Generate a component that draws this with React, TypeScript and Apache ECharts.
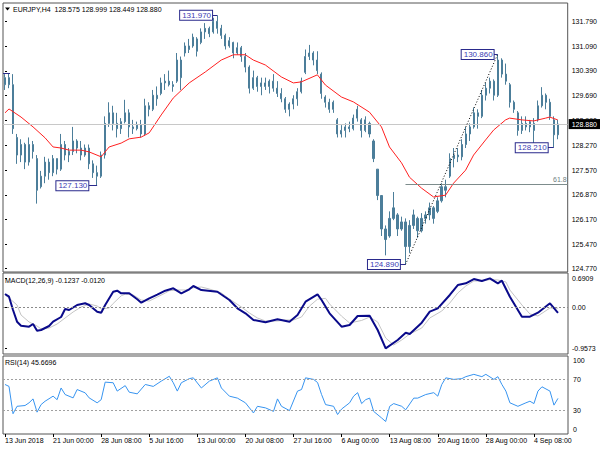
import React, { useEffect, useRef } from "react";
import * as echarts from "echarts";

const FONT = "Liberation Sans";

const SYMBOL = "EURJPY,H4";
const LAST_OHLC = ["128.575", "128.999", "128.449", "128.880"];
const MACD_TITLE = "MACD(12,26,9) -0.1237 -0.0120";
const RSI_TITLE = "RSI(14) 45.6696";
const WATERMARK = "ActionForex.com";

const timeLabels = [
  "13 Jun 2018", "21 Jun 00:00", "28 Jun 08:00", "5 Jul 16:00", "13 Jul 00:00", "20 Jul 08:00",
  "27 Jul 16:00", "6 Aug 00:00", "13 Aug 08:00", "20 Aug 16:00", "28 Aug 00:00", "4 Sep 08:00",
];
const BARS_PER_LABEL = 12;
const SLOT_COUNT = 141;

// [open, close, low, high]
const bars: number[][] = [
  [130.0, 130.2, 129.85, 130.3], [130.2, 130.0, 129.9, 130.33], [130.0, 128.75, 128.6, 130.3],
  [128.5, 128.0, 127.75, 128.6], [128.0, 128.3, 127.8, 128.45], [128.3, 127.8, 127.6, 128.35],
  [127.8, 128.3, 127.7, 128.5], [128.3, 128.1, 127.9, 128.4], [127.9, 127.0, 126.62, 128.0],
  [127.1, 127.4, 127.05, 127.55], [127.4, 127.8, 127.2, 127.95], [127.8, 127.5, 127.3, 127.9],
  [127.5, 127.9, 127.4, 128.0], [127.9, 127.6, 127.45, 127.9], [127.6, 128.3, 127.55, 128.6],
  [128.3, 128.0, 127.85, 128.4], [128.0, 128.1, 127.8, 128.2], [128.1, 128.4, 128.0, 128.8],
  [128.4, 128.2, 128.05, 128.45], [128.2, 128.0, 127.85, 128.4], [128.0, 128.2, 127.95, 128.3],
  [128.2, 127.75, 127.6, 128.3], [127.75, 127.5, 127.35, 127.85], [127.5, 127.4, 127.13, 127.7],
  [127.4, 128.0, 127.35, 128.1], [128.0, 128.9, 127.9, 129.1], [128.9, 129.2, 128.8, 129.5],
  [129.2, 128.9, 128.7, 129.4], [128.9, 128.75, 128.5, 129.2], [128.75, 128.95, 128.6, 129.05],
  [128.95, 129.2, 128.9, 129.57], [129.2, 128.8, 128.5, 129.3], [128.8, 128.75, 128.6, 129.0],
  [128.75, 128.85, 128.7, 128.95], [128.85, 128.6, 128.5, 129.0], [128.6, 129.4, 128.55, 129.6],
  [129.4, 129.3, 129.1, 129.5], [129.3, 129.7, 129.25, 129.85], [129.7, 129.6, 129.4, 129.95],
  [129.75, 130.05, 129.7, 130.2], [130.05, 130.1, 129.85, 130.3], [130.1, 130.0, 129.95, 130.4],
  [130.0, 129.95, 129.8, 130.1], [130.1, 130.7, 130.05, 130.9], [130.7, 130.2, 129.85, 130.8],
  [130.9, 131.1, 130.8, 131.2], [131.1, 131.0, 130.9, 131.3], [131.1, 131.35, 131.05, 131.45],
  [131.3, 130.95, 130.8, 131.35], [131.2, 131.5, 131.15, 131.6], [131.5, 131.6, 131.3, 131.75],
  [131.6, 131.45, 131.35, 131.65], [131.5, 131.8, 131.45, 131.9], [131.8, 131.6, 131.45, 131.97],
  [131.6, 131.4, 131.3, 131.7], [131.4, 131.1, 131.0, 131.45], [131.1, 131.25, 131.05, 131.35],
  [131.2, 130.9, 130.75, 131.22], [130.9, 131.05, 130.85, 131.2], [131.05, 130.8, 130.65, 131.1],
  [130.8, 130.5, 130.35, 130.9], [130.5, 129.9, 129.75, 130.55], [129.9, 130.2, 129.85, 130.4],
  [130.2, 129.95, 129.8, 130.25], [129.95, 130.05, 129.7, 130.2], [130.05, 129.95, 129.85, 130.2],
  [129.95, 130.1, 129.75, 130.15], [130.1, 129.9, 129.8, 130.3], [129.9, 129.75, 129.65, 130.1],
  [129.75, 129.6, 129.5, 129.9], [129.6, 129.3, 129.2, 129.65], [129.3, 129.45, 129.1, 129.5],
  [129.45, 129.6, 129.3, 129.7], [129.6, 129.8, 129.4, 129.9], [129.8, 130.1, 129.75, 130.2],
  [130.35, 130.8, 130.3, 131.0], [130.8, 130.9, 130.7, 131.13], [130.9, 130.7, 130.55, 130.95],
  [130.7, 130.4, 130.3, 130.95], [130.3, 129.75, 129.6, 130.35], [129.65, 129.5, 129.35, 129.7],
  [129.5, 129.3, 129.2, 129.6], [129.3, 129.5, 129.2, 129.55], [129.0, 128.6, 128.5, 129.05],
  [128.6, 128.7, 128.5, 128.85], [128.7, 128.8, 128.5, 128.9], [128.8, 128.75, 128.65, 128.95],
  [128.75, 129.05, 128.7, 129.15], [129.05, 129.3, 128.95, 129.4], [129.0, 128.7, 128.5, 129.05],
  [128.7, 129.0, 128.65, 129.1], [128.9, 128.6, 128.5, 128.95], [128.4, 127.9, 127.8, 128.45],
  [127.6, 126.85, 126.72, 127.6], [126.85, 125.9, 125.7, 126.85], [125.9, 125.6, 125.15, 126.0],
  [125.7, 126.2, 125.65, 126.4], [126.2, 126.5, 126.15, 126.95], [126.3, 125.9, 125.7, 126.35],
  [125.9, 126.1, 125.85, 126.25], [126.1, 125.4, 124.89, 126.2], [125.4, 126.0, 125.22, 126.15],
  [126.0, 126.3, 125.9, 126.45], [126.2, 125.85, 125.65, 126.25], [125.85, 126.2, 125.8, 126.35],
  [126.2, 126.3, 126.05, 126.4], [126.3, 126.5, 126.15, 126.65], [126.5, 126.2, 126.05, 126.55],
  [126.4, 126.7, 126.35, 126.8], [126.7, 127.1, 126.65, 127.2], [127.1, 127.0, 126.8, 127.3],
  [127.4, 127.9, 127.35, 128.05], [127.9, 128.0, 127.65, 128.2], [128.0, 127.95, 127.8, 128.2],
  [127.95, 128.3, 127.85, 128.45], [128.3, 128.6, 128.2, 128.8], [128.6, 128.8, 128.4, 128.9],
  [128.8, 129.2, 128.75, 129.35], [129.2, 129.1, 128.75, 129.3], [129.1, 129.7, 129.05, 129.85],
  [129.7, 129.9, 129.55, 130.05], [129.9, 130.1, 129.75, 130.2], [130.1, 129.7, 129.55, 130.15],
  [129.7, 130.7, 129.65, 130.86], [130.7, 130.3, 130.2, 130.75], [130.3, 130.1, 130.0, 130.6],
  [130.0, 129.5, 129.35, 130.05], [129.5, 129.3, 129.2, 129.55], [129.2, 128.7, 128.55, 129.25],
  [128.7, 128.9, 128.6, 129.1], [128.9, 128.8, 128.7, 129.1], [128.8, 128.95, 128.65, 129.0],
  [128.9, 128.7, 128.33, 129.05], [129.0, 129.4, 128.95, 129.55], [129.4, 129.7, 129.35, 129.93],
  [129.7, 129.5, 129.3, 129.75], [129.5, 129.1, 129.0, 129.6], [129.0, 128.575, 128.21, 129.1],
  [128.575, 128.88, 128.449, 128.999],
];

// [bar index, value]
const maPoints: number[][] = [
  [0, 129.2], [1, 129.31], [4, 129.08], [7, 128.8], [10, 128.49], [12, 128.23], [14, 128.2],
  [16, 128.14], [19, 128.14], [21, 128.09], [24, 127.95], [26, 128.23], [29, 128.34], [31, 128.46],
  [34, 128.51], [36, 128.63], [39, 129.14], [42, 129.62], [46, 130.05], [50, 130.36], [54, 130.7],
  [57, 130.85], [60, 130.85], [62, 130.7], [65, 130.56], [69, 130.22], [72, 130.05], [74, 130.08],
  [78, 130.28], [80, 129.99], [84, 129.65], [87, 129.51], [91, 129.22], [94, 128.8], [96, 128.23],
  [99, 127.78], [101, 127.37], [104, 127.06], [107, 126.81], [110, 126.86], [112, 127.2],
  [115, 127.57], [117, 128.0], [120, 128.43], [122, 128.71], [125, 129.0], [126, 129.05],
  [129, 129.0], [132, 128.97], [135, 129.05], [136, 129.08], [138, 129.0],
];

const macdPoints: number[][] = [
  [0, 0.322], [1, 0.259], [2, -0.054], [3, -0.329], [4, -0.424], [6, -0.447], [7, -0.384],
  [8, -0.541], [9, -0.525], [11, -0.431], [12, -0.329], [14, -0.219], [15, -0.031], [16, -0.054],
  [18, 0.064], [20, 0.104], [21, 0.064], [23, -0.094], [24, -0.118], [25, 0.064], [27, 0.376],
  [28, 0.4], [29, 0.339], [31, 0.339], [33, 0.198], [34, 0.118], [36, 0.221], [38, 0.306],
  [40, 0.4], [42, 0.456], [44, 0.339], [46, 0.433], [47, 0.511], [49, 0.416], [53, 0.376],
  [56, 0.181], [58, -0.014], [60, -0.132], [62, -0.289], [65, -0.344], [68, -0.273], [71, -0.329],
  [73, -0.172], [75, 0.141], [78, 0.315], [79, 0.181], [81, -0.132], [84, -0.447], [86, -0.407],
  [88, -0.195], [91, -0.188], [93, -0.525], [95, -0.957], [98, -0.76], [100, -0.588],
  [101, -0.619], [104, -0.353], [106, -0.094], [108, -0.014], [111, 0.299], [113, 0.534],
  [115, 0.574], [117, 0.675], [119, 0.628], [121, 0.691], [123, 0.574], [124, 0.635],
  [126, 0.259], [129, -0.212], [131, -0.212], [133, -0.118], [136, 0.104], [138, -0.1237],
];

const signalPoints: number[][] = [
  [0, 0.299], [1, 0.228], [3, 0.064], [4, -0.172], [6, -0.336], [8, -0.431], [9, -0.5],
  [11, -0.478], [13, -0.384], [15, -0.242], [17, -0.101], [19, 0.016], [21, 0.087], [23, 0.04],
  [24, -0.03], [26, -0.007], [27, 0.1], [29, 0.28], [30, 0.32], [32, 0.299], [34, 0.181],
  [36, 0.158], [38, 0.252], [40, 0.346], [41, 0.4], [43, 0.416], [45, 0.416], [47, 0.47],
  [49, 0.487], [51, 0.44], [54, 0.346], [56, 0.205], [59, 0.016], [61, -0.125], [63, -0.242],
  [65, -0.313], [68, -0.313], [70, -0.289], [72, -0.289], [74, -0.219], [76, 0.04], [78, 0.2],
  [80, 0.22], [81, 0.087], [84, -0.2], [86, -0.36], [89, -0.3], [91, -0.22], [93, -0.336],
  [95, -0.713], [97, -0.878], [99, -0.76], [101, -0.62], [104, -0.478], [106, -0.242],
  [109, -0.078], [111, 0.111], [113, 0.346], [115, 0.511], [117, 0.628], [119, 0.628],
  [121, 0.66], [123, 0.652], [125, 0.605], [126, 0.416], [129, 0.064], [131, -0.148],
  [133, -0.195], [136, -0.007], [138, -0.012],
];

const rsiPoints: number[][] = [
  [0, 63.5], [1, 61], [2, 26], [3, 35.5], [5, 36.5], [6, 40], [7, 45], [8, 28], [9, 37.7],
  [10, 42], [12, 48.5], [13, 44], [14, 59], [15, 50.6], [17, 46.3], [18, 57], [20, 52.8],
  [21, 46.3], [23, 40], [24, 44], [25, 66.5], [27, 65.7], [28, 55], [30, 62], [31, 53.6],
  [33, 51.5], [35, 63.5], [37, 61], [39, 67.8], [41, 74], [42, 65.7], [43, 55], [44, 65.7],
  [46, 71], [47, 72], [49, 59], [51, 67.8], [53, 72], [54, 59], [56, 48.5], [58, 46], [60, 40],
  [62, 27], [63, 35.5], [65, 33.5], [67, 29], [68, 45], [69, 35.5], [71, 30], [73, 55], [74, 57],
  [75, 72], [77, 70], [78, 66], [79, 50.6], [80, 37.7], [82, 35.5], [83, 25], [84, 32], [86, 40],
  [87, 48.5], [88, 53], [89, 39], [90, 44], [91, 46], [92, 29], [94, 20.5], [95, 16], [96, 35.5],
  [97, 39], [99, 35.5], [100, 31], [102, 46], [103, 46], [105, 50.6], [107, 53], [108, 48.5],
  [109, 63.5], [110, 72], [112, 70], [114, 71], [115, 73.5], [117, 76.5], [119, 73.5],
  [120, 76.5], [122, 70], [123, 73.5], [124, 63.5], [125, 55], [126, 40], [128, 35.5], [130, 40],
  [131, 42], [132, 39], [133, 55], [134, 60.5], [136, 55], [137, 37], [138, 45.67],
];

const priceTicks = [131.79, 131.09, 130.39, 129.69, 128.99, 128.27, 127.57, 126.87, 126.17, 125.47, 124.77];
const macdTicks = [0.6909, 0, -0.9573];
const macdTickLabels = ["0.6909", "0.00", "-0.9573"];
const rsiTicks = [100, 70, 30, 0];
const rsiLevels = [70, 30];

const currentPrice = 128.88;
const fibLevel = { text: "61.8", fromIndex: 100, price: 127.17 };
const trendLine = { fromIndex: 100, fromPrice: 124.89, toIndex: 123, toPrice: 130.86 };
const swingLabels = [
  { index: 53, price: 131.97, text: "131.970", gap: 1.3 },
  { index: 23, price: 127.13, text: "127.130", gap: 2.2 },
  { index: 100, price: 124.89, text: "124.890", gap: 1.4 },
  { index: 123, price: 130.86, text: "130.860", gap: 1.0 },
  { index: 137, price: 128.21, text: "128.210", gap: 1.5 },
];
const edgeMarker = { fromIndex: -0.5, toIndex: 1.25, price: 130.33 };

const BAR_COLOR = "#4c7e9a";
const LABEL_NAVY = "#2a2a8c";

function nearestLabel(v: number, ticks: number[], labels: string[]) {
  let best = 0;
  for (let i = 1; i < ticks.length; i++) {
    if (Math.abs(ticks[i] - v) < Math.abs(ticks[best] - v)) best = i;
  }
  return labels[best];
}

export default function App() {
  const ref = useRef<HTMLDivElement>(null);

  useEffect(() => {
    if (!ref.current) return;
    const chart = echarts.init(ref.current, undefined, { renderer: "svg" });
    const categories = Array.from({ length: SLOT_COUNT }, (_, i) => `s${i}`);
    const gridBase = { left: 3, right: 32, show: true, borderColor: "#555", borderWidth: 1, backgroundColor: "#fff" };
    const axisText = { fontSize: 7, color: "#000", fontFamily: FONT };
    const hiddenValueX = (gridIndex: number) => ({
      type: "value", gridIndex, min: -0.5, max: SLOT_COUNT - 0.5, show: false,
    });

    const swingMarks = swingLabels.map((s) => [
      {
        coord: [s.index - s.gap, s.price],
        lineStyle: { color: LABEL_NAVY, width: 1, type: "solid" },
        label: {
          show: true, position: "start", distance: 0, formatter: s.text,
          color: "#3c3cb4", backgroundColor: "#fff", borderColor: LABEL_NAVY, borderWidth: 1,
          padding: [1, 1, 0, 2], fontSize: 8, lineHeight: 8, fontFamily: FONT,
        },
      },
      { coord: [s.index, s.price] },
    ]);

    const option: any = {
      animation: false,
      backgroundColor: "#fff",
      textStyle: { fontFamily: FONT },
      grid: [
        { ...gridBase, top: 3, height: 269 },
        { ...gridBase, top: 273, height: 81 },
        { ...gridBase, top: 356, height: 78 },
      ],
      xAxis: [
        { type: "category", gridIndex: 0, data: categories, show: false },
        hiddenValueX(0),
        hiddenValueX(1),
        {
          type: "category", gridIndex: 2, data: categories, boundaryGap: true,
          axisLine: { show: false },
          axisTick: { show: true, interval: BARS_PER_LABEL - 1, length: 3, alignWithLabel: true, lineStyle: { color: "#000" } },
          axisLabel: {
            ...axisText, interval: BARS_PER_LABEL - 1, align: "left", margin: 3,
            formatter: (_: string, idx: number) => (idx % BARS_PER_LABEL === 0 ? timeLabels[idx / BARS_PER_LABEL] ?? "" : ""),
          },
          splitLine: { show: false },
        },
        hiddenValueX(2),
      ],
      yAxis: [
        {
          type: "value", gridIndex: 0, position: "right", min: 124.677, max: 132.321,
          splitLine: { show: false }, axisLine: { show: false },
          axisTick: { show: true, length: 2, customValues: priceTicks, lineStyle: { color: "#000" } },
          axisLabel: { ...axisText, margin: 4, customValues: priceTicks, formatter: (v: number) => v.toFixed(3) },
        },
        {
          type: "value", gridIndex: 1, position: "right", min: -1.0894, max: 0.8165,
          splitLine: { show: false }, axisLine: { show: false },
          axisTick: { show: true, length: 2, customValues: macdTicks, lineStyle: { color: "#000" } },
          axisLabel: { ...axisText, margin: 4, customValues: macdTicks, formatter: (v: number) => nearestLabel(v, macdTicks, macdTickLabels) },
        },
        {
          type: "value", gridIndex: 2, position: "right", min: 0, max: 100,
          splitLine: { show: false }, axisLine: { show: false },
          axisTick: { show: false },
          axisLabel: {
            ...axisText, margin: 5, customValues: rsiTicks,
            formatter: (v: number) => (v === 100 ? `{t|${v}}` : v === 0 ? `{b|${v}}` : `${v}`),
            rich: {
              t: { fontSize: 7, fontFamily: FONT, color: "#000", padding: [9, 0, 0, 0] },
              b: { fontSize: 7, fontFamily: FONT, color: "#000", padding: [0, 0, 10, 0] },
            },
          },
        },
      ],
      series: [
        {
          type: "line", xAxisIndex: 1, yAxisIndex: 0, data: [], z: 1, silent: true,
          markLine: {
            symbol: ["none", "none"], silent: true, animation: false,
            data: [
              {
                yAxis: currentPrice,
                lineStyle: { color: "#c8c8c8", width: 1, type: "solid" },
                label: {
                  show: true, position: "end", distance: 1, formatter: currentPrice.toFixed(3),
                  backgroundColor: "#000", color: "#fff", padding: [2, 3, 1, 3], fontSize: 7, fontFamily: FONT,
                },
              },
              [
                {
                  coord: [fibLevel.fromIndex, fibLevel.price],
                  lineStyle: { color: "#7d8c8c", width: 1, type: "solid" },
                  label: { show: true, position: "insideEndTop", distance: 1, formatter: fibLevel.text, color: "#6f8080", fontSize: 7, fontFamily: FONT },
                },
                { coord: [SLOT_COUNT - 0.5, fibLevel.price] },
              ],
            ],
          },
        },
        {
          type: "candlestick", xAxisIndex: 0, yAxisIndex: 0, data: bars, barWidth: 1.6, z: 2,
          itemStyle: { color: BAR_COLOR, color0: BAR_COLOR, borderColor: BAR_COLOR, borderColor0: BAR_COLOR, borderWidth: 1 },
        },
        {
          type: "line", xAxisIndex: 1, yAxisIndex: 0, data: maPoints, symbol: "none", z: 3,
          lineStyle: { color: "#ff2020", width: 1 },
          markLine: {
            symbol: ["none", "none"], silent: true, animation: false,
            data: [
              [
                { coord: [trendLine.fromIndex, trendLine.fromPrice], lineStyle: { color: "#000", width: 1, type: [1, 2] }, label: { show: false } },
                { coord: [trendLine.toIndex, trendLine.toPrice] },
              ],
              [
                { coord: [edgeMarker.fromIndex, edgeMarker.price], lineStyle: { color: LABEL_NAVY, width: 1, type: "solid" }, label: { show: false } },
                { coord: [edgeMarker.toIndex, edgeMarker.price] },
              ],
              ...swingMarks,
            ],
          },
        },
        {
          type: "line", xAxisIndex: 2, yAxisIndex: 1, data: signalPoints, symbol: "none",
          lineStyle: { color: "#c4c4c4", width: 1 },
          markLine: {
            symbol: ["none", "none"], silent: true, animation: false,
            data: [{ yAxis: 0, lineStyle: { color: "#8a8a8a", type: [2, 2], width: 1 }, label: { show: false } }],
          },
        },
        {
          type: "line", xAxisIndex: 2, yAxisIndex: 1, data: macdPoints, symbol: "none",
          lineStyle: { color: "#0a0a8a", width: 2 },
        },
        {
          type: "line", xAxisIndex: 4, yAxisIndex: 2, data: rsiPoints, symbol: "none",
          lineStyle: { color: "#3794f0", width: 1 },
          markLine: {
            symbol: ["none", "none"], silent: true, animation: false,
            data: rsiLevels.map((lv) => ({ yAxis: lv, lineStyle: { color: "#a0a0a0", type: [2, 2], width: 1 }, label: { show: false } })),
          },
        },
      ],
      graphic: [
        { type: "polygon", shape: { points: [[5, 7.5], [10, 7.5], [7.5, 10.5]] }, style: { fill: "#000" }, silent: true },
        {
          type: "text", x: 13, y: 9, silent: true,
          style: { text: `${SYMBOL}  ${LAST_OHLC.join(" ")}`, fontSize: 7, fontFamily: FONT, fill: "#000", verticalAlign: "middle" },
        },
        {
          type: "text", x: 5, y: 280, silent: true,
          style: { text: MACD_TITLE, fontSize: 7, fontFamily: FONT, fill: "#000", verticalAlign: "middle" },
        },
        {
          type: "text", x: 5, y: 362, silent: true,
          style: { text: RSI_TITLE, fontSize: 7, fontFamily: FONT, fill: "#000", verticalAlign: "middle" },
        },
        {
          type: "text", x: 240, y: 231, z: -1, silent: true,
          style: { text: WATERMARK, fontSize: 18, fontFamily: FONT, fill: "#c4c4c4", align: "center", verticalAlign: "middle" },
        },
      ],
    };

    chart.setOption(option);
    return () => chart.dispose();
  }, []);

  return <div ref={ref} style={{ position: "absolute", left: 0, top: 0, width: 600, height: 450 }} />;
}
